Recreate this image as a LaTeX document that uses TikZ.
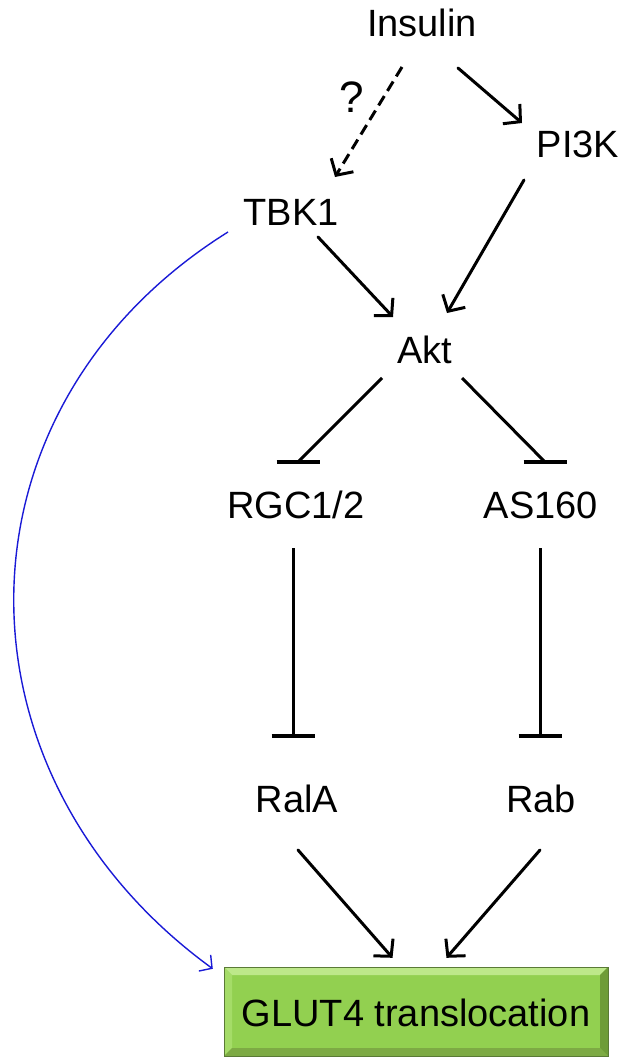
\documentclass[tikz,border=0pt]{standalone}
\usepackage{fontspec}
\setmainfont{Liberation Sans}
\usetikzlibrary{arrows.meta}

\definecolor{glutfill}{HTML}{92D050}
\definecolor{glutlight}{HTML}{BDE88A}
\definecolor{glutleft}{HTML}{A5DC68}
\definecolor{glutright}{HTML}{6E9C38}
\definecolor{glutbottom}{HTML}{7DAA44}
\definecolor{glutedge}{HTML}{5A7A36}
\definecolor{linkblue}{HTML}{1A1AD6}

\tikzset{
  lbl/.style={anchor=base, inner sep=0pt, font=\fontsize{38}{44}\selectfont},
  act/.style={line width=3pt, line cap=round, -{Straight Barb[length=12pt,width=26pt,line width=3pt]}},
  guess/.style={act, line cap=butt, dash pattern=on 11pt off 6pt},
  inhib/.style={line width=3pt},
  stopbar/.style={line width=3.4pt},
  bluelink/.style={linkblue, line width=1.4pt, -{Straight Barb[length=9pt,width=20pt,line width=1.4pt]}},
}

\begin{document}
\begin{tikzpicture}[x=1pt,y=-1pt]
\useasboundingbox (0,0) rectangle (621,1057);

% species labels
\node[lbl] (ins)  at (422,37)  {Insulin};
\node[lbl] (pi3k) at (578,157) {PI3K};
\node[lbl] (tbk)  at (291,225) {TBK1};
\node[lbl] (akt)  at (425,363) {Akt};
\node[lbl] (rgc)  at (296,518) {RGC1/2};
\node[lbl] (as)   at (541,518) {AS160};
\node[lbl] (rala) at (297,812) {RalA};
\node[lbl] (rab)  at (541,812) {Rab};
\node[lbl, font=\fontsize{44}{50}\selectfont] (q) at (352,112) {?};

% bevelled output box
\coordinate (g1) at (224,967);
\coordinate (g2) at (608,1056);
\fill[glutfill] (g1) rectangle (g2);
\fill[glutlight] (224,967) -- (608,967) -- (600,975) -- (232,975) -- cycle;
\fill[glutleft] (224,967) -- (232,975) -- (232,1048) -- (224,1056) -- cycle;
\fill[glutright] (608,967) -- (608,1056) -- (600,1048) -- (600,975) -- cycle;
\fill[glutbottom] (224,1056) -- (232,1048) -- (600,1048) -- (608,1056) -- cycle;
\draw[glutedge, line width=0.6pt] (g1) rectangle (g2);
\node[inner sep=0pt, minimum width=384pt, minimum height=89pt,
      font=\fontsize{38}{44}\selectfont] (glut) at (416,1012.5)
      {\raisebox{-2.5pt}{GLUT4 translocation}};

% activation links
\draw[guess] ([shift={(-20,30)}]ins.base) -- ([shift={(44,-48)}]tbk.base);
\draw[act]   ([shift={(36,31)}]ins.base) -- ([shift={(-56,-34)}]pi3k.base);
\draw[act]   ([shift={(27,12)}]tbk.base) -- ([shift={(-32,-46)}]akt.base);
\draw[act]   ([shift={(-54,23)}]pi3k.base) -- ([shift={(22,-50)}]akt.base);
\draw[act]   ([shift={(1,38)}]rala.base) -- ([shift={(-23.5,-10)}]glut.north);
\draw[act]   ([shift={(-1,38)}]rab.base) -- ([shift={(30.5,-10)}]glut.north);

% inhibition links, each ending in a level bar
\coordinate (stopRgc)  at ([shift={(2,-56)}]rgc.base);
\coordinate (stopAs)   at ([shift={(4,-56)}]as.base);
\coordinate (stopRala) at ([shift={(-4,-76)}]rala.base);
\coordinate (stopRab)  at ([shift={(-1,-76)}]rab.base);
\draw[inhib] ([shift={(-43,15)}]akt.base) -- (stopRgc);
\draw[inhib] ([shift={(37,15)}]akt.base) -- (stopAs);
\draw[inhib] ([shift={(-3,30)}]rgc.base) -- (stopRala);
\draw[inhib] ([shift={(-1,30)}]as.base) -- (stopRab);
\foreach \s in {stopRgc,stopAs,stopRala,stopRab}
  \draw[stopbar] ([xshift=-21.5pt]\s) -- ([xshift=21.5pt]\s);

% direct TBK1 route to GLUT4
\draw[bluelink] ([shift={(-63,7)}]tbk.base)
  .. controls +(-281.5,176) and +(-269,-196) .. ([shift={(-11,1)}]glut.north west);
\end{tikzpicture}
\end{document}
